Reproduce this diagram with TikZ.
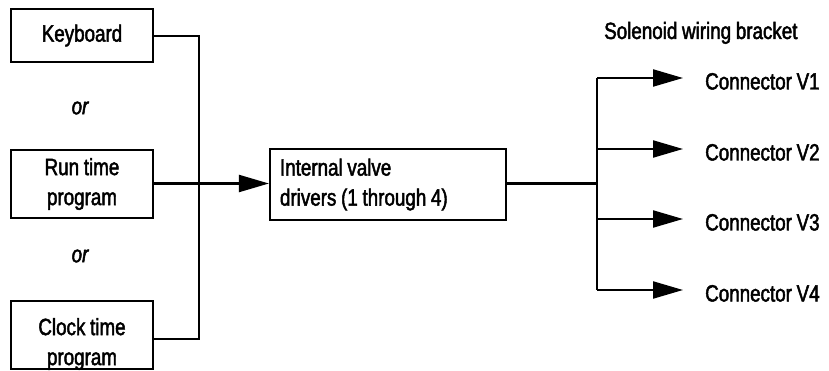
\documentclass[tikz,border=0pt]{standalone}
\usepackage{fontspec}
\setmainfont{Liberation Sans}[FakeStretch=0.80,FakeBold=2,WordSpace=0.9]
\usetikzlibrary{arrows.meta}
\begin{document}
\begin{tikzpicture}[x=1pt,y=-1pt,
  every node/.style={font=\fontsize{23.5}{30}\selectfont},
  srcbox/.style={draw,line width=2.2pt,minimum width=142pt,inner sep=0pt,align=center},
  wire/.style={line width=2.2pt},
  arr/.style={line width=2.2pt,-{Triangle[length=30pt,width=17pt]}},
  lbl/.style={anchor=base west,inner sep=0pt}]
\useasboundingbox (0,0) rectangle (829,371);
% sources
\node[srcbox,minimum height=53pt] (kb) at (82,35.5) {Keyboard};
\node[font=\fontsize{23.5}{30}\selectfont\itshape] (or1) at (80,108) {or};
\node[srcbox,minimum height=68pt] (rt) at (82,184) {Run time\\program};
\node[font=\fontsize{23.5}{30}\selectfont\itshape] (or2) at (80,256) {or};
\node[srcbox,minimum height=68pt] (ck) at (82,335) {};
\node[align=center,inner sep=0pt] (ckt) at (82,344) {Clock time\\program};
% drivers
\node[draw,line width=2.2pt,minimum width=236pt,minimum height=71pt,
      text width=216pt,inner xsep=10pt,align=flush left] (iv) at (388,184.5)
      {Internal valve\\drivers (1 through 4)};
% left wiring
\coordinate (jk) at (199,36);
\coordinate (jc) at (199,339);
\draw[wire] (jk -| kb.east) -- (jk) -- (jc) -- (jc -| ck.east);
\draw[arr] (rt.east |- 0,183.5) -- (iv.west |- 0,183.5);
% right wiring
\coordinate (b0) at (597,183.5);
\coordinate (b1) at (597,78);
\coordinate (b2) at (597,149);
\coordinate (b3) at (597,219);
\coordinate (b4) at (597,290);
\coordinate (t1) at (683,78);
\coordinate (t2) at (683,149);
\coordinate (t3) at (683,219);
\coordinate (t4) at (683,290);
\draw[wire] (iv.east |- b0) -- (b0);
\draw[wire] (b1) -- (b4);
\draw[arr] (b1) -- (t1);
\draw[arr] (b2) -- (t2);
\draw[arr] (b3) -- (t3);
\draw[arr] (b4) -- (t4);
\node[lbl] (sol) at (604,39) {Solenoid wiring bracket};
\node[lbl] (c1) at (705,89.5) {Connector V1};
\node[lbl] (c2) at (705,160.5) {Connector V2};
\node[lbl] (c3) at (705,230.5) {Connector V3};
\node[lbl] (c4) at (705,301.5) {Connector V4};
\end{tikzpicture}
\end{document}
